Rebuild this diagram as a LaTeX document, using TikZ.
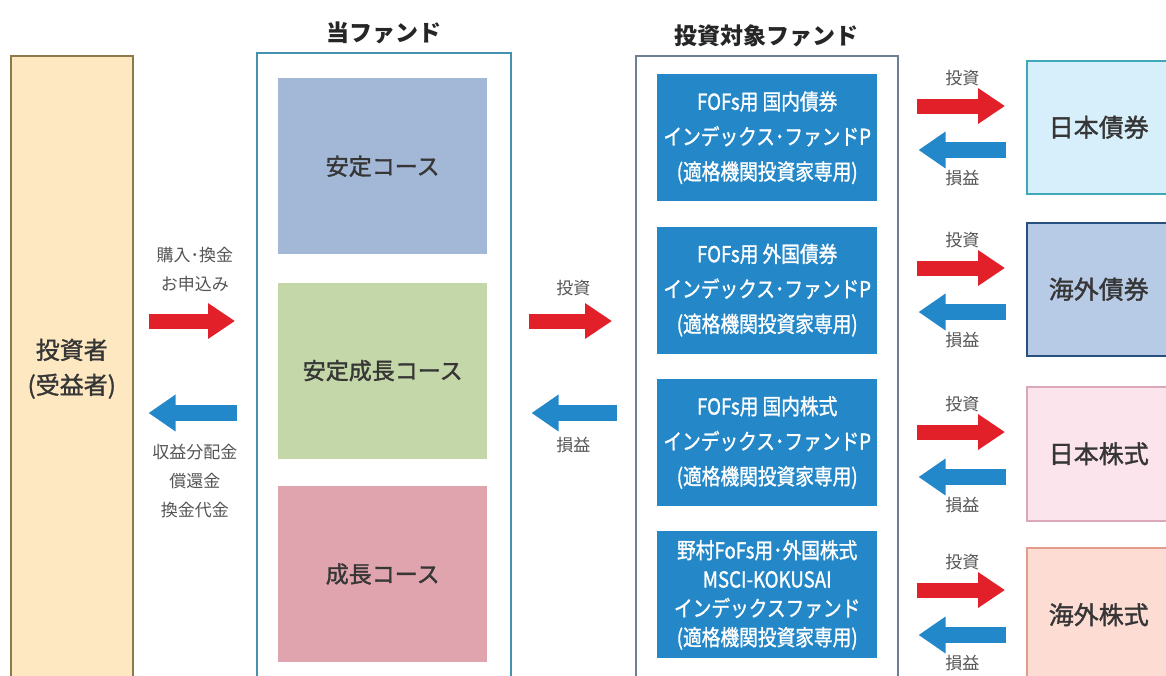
\documentclass[tikz,border=0pt]{standalone}
\usepackage{fontspec}
\setmainfont{Noto Sans CJK JP}
\newfontfamily\narrowjp{Noto Sans CJK JP}[FakeStretch=0.85,FakeBold=1.2]
\newfontfamily\semijp{Noto Sans CJK JP}[FakeBold=1.4]
\usetikzlibrary{arrows.meta,positioning}

\definecolor{txtgray}{HTML}{363636}
\definecolor{notegray}{HTML}{555555}
\definecolor{invfill}{HTML}{FDE8C2}
\definecolor{invborder}{HTML}{8C7A4A}
\definecolor{fundframe}{HTML}{4592B0}
\definecolor{tgtframe}{HTML}{6C7F93}
\definecolor{stablec}{HTML}{A3B8D7}
\definecolor{midc}{HTML}{C4D7A8}
\definecolor{growc}{HTML}{DFA4AD}
\definecolor{fundblue}{HTML}{2487C7}
\definecolor{arrred}{HTML}{E2202A}
\definecolor{arrblue}{HTML}{2388C9}
\definecolor{jbfill}{HTML}{D7EFFA}
\definecolor{jbline}{HTML}{3FA9B8}
\definecolor{fbfill}{HTML}{B8CBE6}
\definecolor{fbline}{HTML}{27507E}
\definecolor{jsfill}{HTML}{FCE4ED}
\definecolor{jsline}{HTML}{DBA8B7}
\definecolor{fsfill}{HTML}{FDDCD3}
\definecolor{fsline}{HTML}{E39B8D}

\begin{document}
\begin{tikzpicture}[x=1pt,y=-1pt,
  area/.style={draw, line width=1.5pt, anchor=north west, inner sep=0pt},
  course/.style={anchor=north west, minimum width=209pt, minimum height=176pt,
    inner sep=0pt, text=txtgray, font=\semijp\fontsize{23}{28}\selectfont},
  fundbox/.style={anchor=north west, fill=fundblue, minimum width=220pt,
    minimum height=127pt, inner sep=0pt, align=center, text=white,
    font=\narrowjp\fontsize{22}{35}\selectfont},
  asset/.style={draw, line width=1.5pt, anchor=north west, minimum width=144pt,
    minimum height=133pt, inner sep=0pt, text=txtgray,
    font=\semijp\fontsize{25}{30}\selectfont},
  title/.style={text=black!85, font=\bfseries\fontsize{23}{28}\selectfont},
  note/.style={align=center, text=notegray, font=\fontsize{17}{29}\selectfont},
  inarr/.style={draw=arrred, line width=15pt, -{Triangle[length=27pt,width=34pt]}},
  outarr/.style={draw=arrblue, line width=16pt, -{Triangle[length=27pt,width=35pt]}}
]
\useasboundingbox (0,0) rectangle (1166,675);
\clip (0,0) rectangle (1166,675);

% investor
\node[area, draw=invborder, fill=invfill, minimum width=122pt, minimum height=626pt,
  align=center, text=txtgray, font=\semijp\fontsize{24}{35}\selectfont] (inv) at (10,55)
  {投資者\\(受益者)};

% this fund
\node[area, draw=fundframe, minimum width=254pt, minimum height=650pt] (fund) at (256,52) {};
\node[title, above=5pt of fund] (fundtitle) {当ファンド};
\node[course, fill=stablec] (c1) at (278,78) {安定コース};
\node[course, fill=midc, below=28pt of c1] (c2) {安定成長コース};
\node[course, fill=growc, below=27pt of c2] (c3) {成長コース};

% target funds
\node[area, draw=tgtframe, minimum width=262pt, minimum height=650pt] (tgt) at (635,55) {};
\node[title, above=5pt of tgt] (tgttitle) {投資対象ファンド};
\node[fundbox] (f1) at (657,74) {FOFs用 国内債券\\インデックス･ファンドP\\(適格機関投資家専用)};
\node[fundbox, below=25pt of f1] (f2) {FOFs用 外国債券\\インデックス･ファンドP\\(適格機関投資家専用)};
\node[fundbox, below=25pt of f2] (f3) {FOFs用 国内株式\\インデックス･ファンドP\\(適格機関投資家専用)};
\node[fundbox, below=25pt of f3, font=\narrowjp\fontsize{22}{29}\selectfont] (f4)
  {野村FoFs用･外国株式\\MSCI-KOKUSAI\\インデックスファンド\\(適格機関投資家専用)};

% assets
\node[asset, fill=jbfill, draw=jbline] (a1) at (1026,60) {日本債券};
\node[asset, fill=fbfill, draw=fbline] (a2) at (1026,222) {海外債券};
\node[asset, fill=jsfill, draw=jsline, minimum height=134pt] (a3) at (1026,386) {日本株式};
\node[asset, fill=fsfill, draw=fsline, minimum height=134pt] (a4) at (1026,547) {海外株式};

% flows
\coordinate (yin) at (0,321);
\coordinate (yout) at (0,413);
\draw[inarr, shorten <=15pt, shorten >=21pt] (inv.east |- yin)
  -- node[note, yshift=51pt] (buy) {購入･換金\\お申込み} (fund.west |- yin);
\draw[outarr, shorten <=19pt, shorten >=15pt] (fund.west |- yout)
  -- node[note, yshift=-68pt] (pay) {収益分配金\\償還金\\換金代金} (inv.east |- yout);
\draw[inarr, shorten <=17pt, shorten >=23pt] (fund.east |- yin)
  -- node[note, yshift=33pt] (invest) {投資} (tgt.west |- yin);
\draw[outarr, shorten <=18pt, shorten >=20pt] (tgt.west |- yout)
  -- node[note, yshift=-32pt] (gain) {損益} (fund.east |- yout);
\foreach \a/\r/\b in {a1/106/150, a2/268/312, a3/432/477, a4/590/635}{
  \coordinate (r\a) at (0,\r);
  \coordinate (b\a) at (0,\b);
  \draw[inarr, shorten <=18pt, shorten >=21pt] (tgt.east |- r\a)
    -- node[note, yshift=28pt] (i\a) {投資} (\a.west |- r\a);
  \draw[outarr, shorten <=20pt, shorten >=20pt] (\a.west |- b\a)
    -- node[note, yshift=-28pt] (p\a) {損益} (tgt.east |- b\a);
}
\end{tikzpicture}
\end{document}
